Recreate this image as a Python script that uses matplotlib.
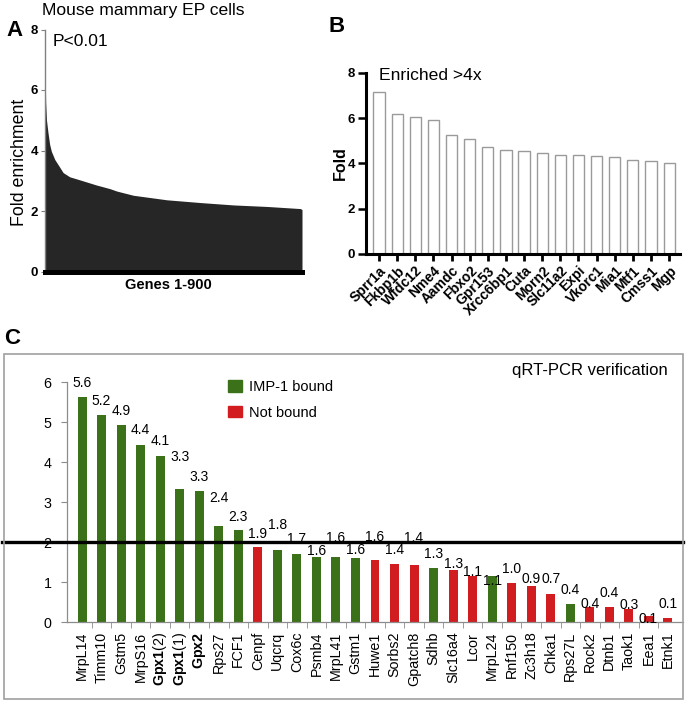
import matplotlib
matplotlib.use('Agg')
import matplotlib.pyplot as plt
from matplotlib.patches import Patch, Rectangle

plt.rcParams['font.family'] = ['Liberation Sans', 'DejaVu Sans']
plt.rcParams['mathtext.fontset'] = 'custom'
plt.rcParams['mathtext.rm'] = 'Liberation Sans'
plt.rcParams['mathtext.bf'] = 'Liberation Sans:bold'

# ---------------- data ----------------
# Panel A: fold enrichment of genes ranked 1-900 (read at selected ranks)
a_rank = [1, 3, 5, 8, 13, 19, 25, 37, 54, 66, 89, 124, 182, 229, 253, 311,
          428, 544, 661, 778, 894, 900]
a_fold = [7.6, 6.8, 5.6, 5.0, 4.6, 4.2, 3.97, 3.7, 3.45, 3.27, 3.13, 3.03,
          2.86, 2.74, 2.66, 2.52, 2.37, 2.28, 2.2, 2.15, 2.08, 2.05]

# Panel B: genes enriched > 4x
b_genes = ['Sprr1a', 'Fkbp1b', 'Wfdc12', 'Nme4', 'Aamdc', 'Fbxo2', 'Gpr153',
           'Xrcc6bp1', 'Cuta', 'Morn2', 'Slc11a2', 'Expi', 'Vkorc1', 'Mia1',
           'Mtf1', 'Cmss1', 'Mgp']
b_fold = [7.15, 6.17, 6.06, 5.94, 5.24, 5.09, 4.74, 4.61, 4.54, 4.48, 4.37,
          4.37, 4.32, 4.27, 4.17, 4.11, 4.02]

# Panel C: qRT-PCR verification
c_genes = ['MrpL14', 'Timm10', 'Gstm5', 'MrpS16', r'$\mathbf{Gpx1}$(2)',
           r'$\mathbf{Gpx1}$(1)', r'$\mathbf{Gpx2}$', 'Rps27', 'FCF1', 'Cenpf',
           'Uqcrq', 'Cox6c', 'Psmb4', 'MrpL41', 'Gstm1', 'Huwe1', 'Sorbs2',
           'Gpatch8', 'Sdhb', 'Slc16a4', 'Lcor', 'MrpL24', 'Rnf150', 'Zc3h18',
           'Chka1', 'Rps27L', 'Rock2', 'Dtnb1', 'Taok1', 'Eea1', 'Etnk1']
c_ratio = [5.62, 5.18, 4.92, 4.42, 4.14, 3.33, 3.27, 2.39, 2.30, 1.88, 1.80,
           1.71, 1.62, 1.62, 1.59, 1.56, 1.44, 1.43, 1.34, 1.30, 1.14, 1.14,
           0.98, 0.91, 0.71, 0.44, 0.37, 0.37, 0.33, 0.14, 0.10]
c_bound = [1, 1, 1, 1, 1, 1, 1, 1, 1, 0, 1, 1, 1, 1, 1, 0, 0, 0, 1, 0, 0, 1,
           0, 0, 0, 1, 0, 0, 0, 0, 0]
c_legend = ['IMP-1 bound', 'Not bound']

# label placement (layout only): vertical offset of each value label, px
c_label_dy = [14, 14, 14, 15, 15, 32, 14, 28, 13, 13, 25, 15, 6, 19, 8, 23,
              14, 27, 14, 6, 4, -5, 14, 7, 15, 14, 3, 14, 4, -3, 14]

GREEN = '#3b7119'
RED = '#d11c20'

W, H = 688, 707
fig = plt.figure(figsize=(W / 100, H / 100), dpi=100)


def box(l, t, r, b):
    return [l / W, 1 - b / H, (r - l) / W, (b - t) / H]


def ftext(x, y, s, **kw):
    fig.text(x / W, 1 - y / H, s, **kw)


# ---------------- Panel A ----------------
axA = fig.add_axes(box(44.5, 29.5, 302, 271.5))
axA.fill_between(a_rank, a_fold, 0, color='#262626', lw=0)
axA.set_xlim(1, 900)
axA.set_ylim(0, 8)
for s in ['top', 'right']:
    axA.spines[s].set_visible(False)
axA.spines['left'].set_color('#808080')
axA.spines['left'].set_linewidth(1)
axA.spines['bottom'].set_color('black')
axA.spines['bottom'].set_linewidth(3.6)
axA.set_xticks([])
axA.set_yticks([0, 2, 4, 6, 8])
axA.tick_params(axis='y', length=3, color='#808080', pad=1.5, labelsize=9.5)
for t in axA.get_yticklabels():
    t.set_fontweight('bold')
ftext(42, 14.5, 'Mouse mammary EP cells', fontsize=12.6, va='baseline', ha='left')
ftext(52.5, 46.5, 'P<0.01', fontsize=12.6, va='baseline', ha='left')
ftext(20, 162, 'Fold enrichment', fontsize=12.8, rotation=90, ha='center', va='center')
ftext(168, 285, 'Genes 1-900', fontsize=10.5, fontweight='bold', ha='center', va='center')
ftext(14, 30, 'A', fontsize=16, fontweight='bold', ha='center', va='center')

# ---------------- Panel B ----------------
axB = fig.add_axes(box(366, 73, 680, 254))
bx = list(range(len(b_genes)))
axB.bar(bx, b_fold, width=0.62, facecolor='white', edgecolor='#9a9a9a', lw=1)
axB.set_xlim(-0.72, len(b_genes) - 1 + 0.6)
axB.set_ylim(0, 8)
for s in ['top', 'right']:
    axB.spines[s].set_visible(False)
for s in ['left', 'bottom']:
    axB.spines[s].set_linewidth(2.2)
axB.set_yticks([0, 2, 4, 6, 8])
axB.tick_params(axis='y', length=6, width=1.8, pad=2, labelsize=9.5)
axB.set_xticks(bx)
axB.set_xticklabels(b_genes, rotation=45, ha='right', va='top',
                    rotation_mode='anchor', fontsize=10, fontweight='bold')
axB.tick_params(axis='x', length=5, width=2, pad=2)
for t in axB.get_yticklabels():
    t.set_fontweight('bold')
ftext(379, 80.5, 'Enriched >4x', fontsize=12.6, va='baseline', ha='left')
ftext(340, 163, 'Fold', fontsize=11.5, fontweight='bold', rotation=90, ha='center', va='center')
ftext(337, 26, 'B', fontsize=16, fontweight='bold', ha='center', va='center')

# ---------------- Panel C ----------------
fig.patches.append(Rectangle((4 / W, 1 - 699 / H), 679 / W, 345 / H,
                             transform=fig.transFigure, fill=False,
                             edgecolor='#a0a0a0', lw=1.2))
ftext(12, 339, 'C', fontsize=16, fontweight='bold', ha='center', va='center')

axC = fig.add_axes(box(67, 382, 683, 622))
cx = list(range(len(c_genes)))
colors = [GREEN if b else RED for b in c_bound]
axC.bar(cx, c_ratio, width=0.46, color=colors, lw=0)
axC.set_xlim(-0.77, len(c_genes) - 1 + 0.77)
axC.set_ylim(0, 6)
axC.axhline(2, xmin=-0.106, xmax=1.0, color='black', lw=2.4, clip_on=False, zorder=5)
for s in ['top', 'right']:
    axC.spines[s].set_visible(False)
for s in ['left', 'bottom']:
    axC.spines[s].set_color('#8c8c8c')
    axC.spines[s].set_linewidth(0.9)
axC.set_yticks(range(0, 7))
axC.tick_params(axis='y', length=4, color='#8c8c8c', pad=7, labelsize=10.3)
axC.set_xticks(cx)
axC.set_xticklabels(c_genes, rotation=90, ha='center', va='top', fontsize=10.3)
axC.set_xticks([i + 0.5 for i in cx[:-1]], minor=True)
axC.tick_params(axis='x', which='major', length=0, pad=7)
axC.tick_params(axis='x', which='minor', length=4, color='#8c8c8c')
for i, v in enumerate(c_ratio):
    axC.annotate(f'{v:.1f}', (i, v), xytext=(0, c_label_dy[i] * 0.72),
                 textcoords='offset points', ha='center', va='center',
                 fontsize=10, zorder=3, annotation_clip=False)
handles = [Patch(facecolor=GREEN, edgecolor=GREEN), Patch(facecolor=RED, edgecolor=RED)]
fig.legend(handles, c_legend, loc='upper left', bbox_to_anchor=(228 / W, 1 - 380 / H),
           frameon=False, fontsize=10.5, handlelength=0.96, handleheight=0.82,
           handletextpad=0.45, labelspacing=0.8, borderpad=0, borderaxespad=0)
ftext(668, 375, 'qRT-PCR verification', fontsize=12, ha='right', va='baseline')

fig.savefig('out.png', dpi=100)
